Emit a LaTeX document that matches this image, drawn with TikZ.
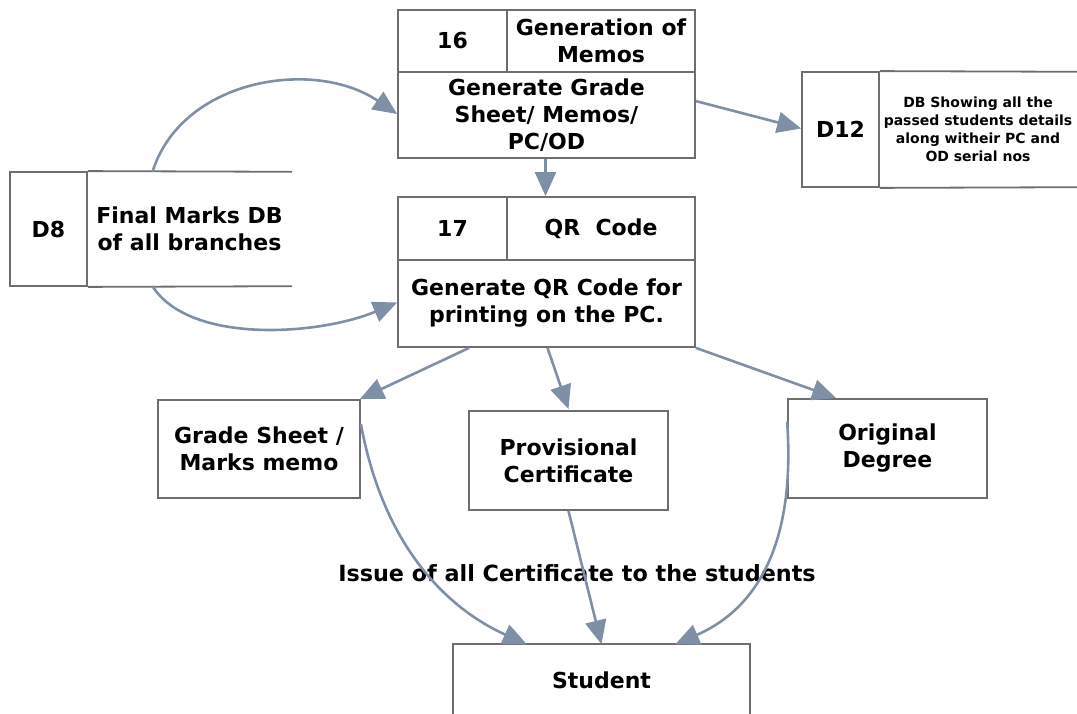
\documentclass[tikz,border=0pt]{standalone}
\usepackage{fontspec}
\setmainfont{DejaVu Sans}
\usetikzlibrary{arrows.meta,positioning}
\definecolor{flowblue}{HTML}{7F8FA6}
\definecolor{boxgray}{HTML}{6E6E6E}
\tikzset{
cell/.style={rectangle, draw=boxgray, line width=1.8pt, align=center, inner sep=0pt, font=\bfseries\fontsize{22}{27}\selectfont},
opencell/.style={rectangle, draw=none, align=center, inner sep=0pt, font=\bfseries\fontsize{22}{27}\selectfont},
openline/.style={draw=boxgray, line width=1.8pt},
flow/.style={draw=flowblue, line width=2.6pt, -{Triangle[length=24pt,width=21pt]}, fill=none}
}

\begin{document}
\begin{tikzpicture}[x=1pt, y=-1pt, >=latex]
\useasboundingbox (0,0) rectangle (1077,714);

% process 16
\node[cell, minimum width=109, minimum height=62] (n16) at (452.5,41) {16};
\node[cell, minimum width=188, minimum height=62] (t16) at (601,41) {Generation of\\Memos};
\node[cell, minimum width=297, minimum height=86] (p16) at (546.5,115) {Generate Grade\\Sheet/ Memos/\\PC/OD};

% process 17
\node[cell, minimum width=109, minimum height=63] (n17) at (452.5,228.5) {17};
\node[cell, minimum width=188, minimum height=63] (t17) at (601,228.5) {QR\ \ Code};
\node[cell, minimum width=297, minimum height=87] (p17) at (546.5,303.5) {Generate QR Code for\\printing on the PC.};

% data stores
\node[cell, minimum width=77, minimum height=114] (d8) at (48.5,229) {D8};
\node[opencell, minimum width=205, minimum height=114] (d8t) at (189.5,229) {Final Marks DB\\of all branches};
\draw[openline] (d8.north east) -- (d8t.north east);
\draw[openline] (d8.south east) -- (d8t.south east);

\node[cell, minimum width=77, minimum height=115] (d12) at (840.5,129.5) {D12};
\node[opencell, minimum width=198, minimum height=115, font=\bfseries\fontsize{14}{18}\selectfont] (d12t) at (978,129.5) {DB Showing all the\\passed students details\\along witheir PC and\\OD serial nos};
\draw[openline] (d12.north east) -- (d12t.north east);
\draw[openline] (d12.south east) -- (d12t.south east);

% outputs
\node[cell, minimum width=202, minimum height=98] (gs) at (259,449) {Grade Sheet /\\Marks memo};
\node[cell, minimum width=199, minimum height=99] (pc) at (568.5,460.5) {Provisional\\Certificate};
\node[cell, minimum width=199, minimum height=99] (od) at (887.5,448.5) {Original\\Degree};

\node[opencell, minimum width=297, minimum height=71, font=\bfseries\fontsize{22}{26}\selectfont] (st) at (601.5,680) {Student};
\draw[openline] (st.south west) -- (st.north west) -- (st.north east) -- (st.south east);

\node[opencell, font=\bfseries\fontsize{22.3}{26}\selectfont] (issue) at (577,573) {Issue of all Certificate to the students};

% flows
\draw[flow] ([xshift=-37pt]d8t.north) .. controls (182,78) and (315,58) .. ([yshift=1pt]p16.west);
\draw[flow] ([xshift=-37pt]d8t.south) .. controls (190,345) and (320,335) .. ([yshift=1pt]p17.west);
\draw[flow] ([xshift=-1pt]p16.south) -- ([xshift=-1pt]t17.north -| p16.south);
\draw[flow] ([yshift=-30pt]p16.north east) -- ([yshift=1pt]d12.west);

\draw[flow] ([xshift=72pt]p17.south west) -- ([xshift=-1pt]gs.north east);
\draw[flow] ([xshift=1pt]p17.south) -- ([yshift=1pt]pc.north);
\draw[flow] (p17.south east) -- ([xshift=49pt]od.north west);

\draw[flow] ([yshift=25pt]gs.east) .. controls (385,555) and (455,612) .. ([xshift=74pt]st.north west);
\draw[flow] (pc.south) -- (st.north);
\draw[flow] ([yshift=27pt]od.west) .. controls (797,560) and (745,614) .. ([xshift=-75pt]st.north east);
\end{tikzpicture}
\end{document}
